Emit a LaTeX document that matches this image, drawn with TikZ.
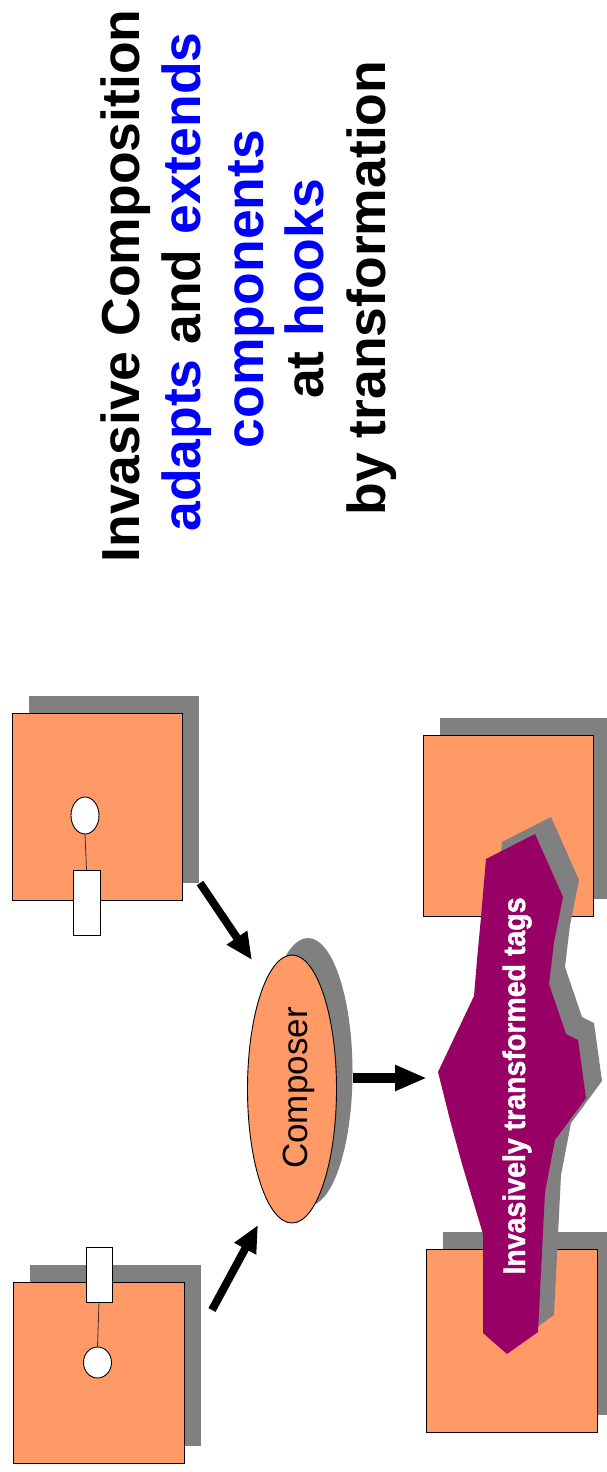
\documentclass[tikz,border=0pt]{standalone}
\usepackage{fontspec}
\usepackage{graphicx}
\setmainfont{Liberation Sans}
\newfontfamily\tagfont[BoldFeatures={FakeBold=1.5}]{Liberation Sans}
\usetikzlibrary{arrows.meta,shapes.geometric,shadows}

\definecolor{compfill}{RGB}{255,153,102}
\definecolor{shadowgray}{RGB}{128,128,128}
\definecolor{tagpurple}{RGB}{153,0,102}
\definecolor{keyblue}{RGB}{0,0,255}

\begin{document}
\begin{tikzpicture}[x=1pt,y=-1pt,
  boxshadow/.style={drop shadow={shadow xshift=17pt,shadow yshift=17pt,fill=shadowgray,opacity=1}},
  compbox/.style={rectangle,draw=black,line width=0.9pt,fill=compfill,inner sep=0pt,outer sep=0pt,boxshadow},
  hookball/.style={ellipse,draw=black,line width=0.9pt,fill=white,inner sep=0pt,outer sep=0pt},
  hookplug/.style={rectangle,draw=black,line width=0.9pt,fill=white,inner sep=0pt,outer sep=0pt},
  hookwire/.style={draw=black!80,line width=0.8pt},
  flow/.style={line width=8pt,-{Triangle[length=27pt,width=23pt]}},
  bigflow/.style={line width=10pt,-{Triangle[length=32pt,width=24pt]}},
  titleline/.style={rotate=90,anchor=base,font=\fontsize{53.5}{60}\selectfont\bfseries},
]
\useasboundingbox (0,0) rectangle (606,1472);

% ---- title, set bottom to top ----
\node[titleline] (t1) at (139,286) {Invasive Composition};
\node[titleline] (t2) at (200,282) {\textcolor{keyblue}{adapts} and \textcolor{keyblue}{extends}};
\node[titleline,text=keyblue] (t3) at (263,289) {components};
\node[titleline] (t4) at (323,289) {at \textcolor{keyblue}{hooks}};
\node[titleline] (t5) at (385,288) {by transformation};

% ---- input components with hooks ----
\node[compbox,minimum width=170pt,minimum height=187pt] (comp1) at (97,806.5) {};
\node[hookball,minimum width=28pt,minimum height=37pt] (ball1) at (85,815.5) {};
\node[hookplug,minimum width=27pt,minimum height=65pt] (plug1) at (86.5,902.5) {};
\draw[hookwire] (ball1.south) -- (plug1.north);

\node[compbox,minimum width=171pt,minimum height=181pt] (comp2) at (98.5,1372.5) {};
\node[hookball,minimum width=28pt,minimum height=31pt] (ball2) at (97.5,1362.5) {};
\node[hookplug,minimum width=26pt,minimum height=55pt] (plug2) at (99,1274.5) {};
\draw[hookwire] (plug2.south) -- (ball2.north);

% ---- composer ----
\node[ellipse,draw=black,line width=0.9pt,fill=compfill,inner sep=0pt,
      minimum width=89pt,minimum height=268pt,
      drop shadow={shadow xshift=16pt,shadow yshift=17pt,fill=shadowgray,opacity=1}]
      (composer) at (292,1089) {};
\node[rotate=90,anchor=base,font=\fontsize{35}{40}\selectfont] (composerlabel)
      at (307,1088) {Composer};

% ---- arrows into and out of the composer ----
\coordinate (from1) at (200,883);
\coordinate (to1) at (252,960);
\coordinate (from2) at (212,1310);
\coordinate (to2) at (258,1225);
\coordinate (fromc) at (353,1078);
\coordinate (tagtip) at (427,1078);
\draw[flow] (from1) -- (to1);
\draw[flow] (from2) -- (to2);
\draw[bigflow] (fromc) -- (tagtip);

% ---- composed result ----
\node[compbox,minimum width=170pt,minimum height=181pt] (comp3) at (508,825.5) {};
\node[compbox,minimum width=171pt,minimum height=183pt] (comp4) at (511.5,1340.5) {};

% transformed tags: shadow first, then the purple shape
\def\tagoutline{(486,859) -- (535,834) -- (563,897) -- (554,942) -- (549,984)
  -- (566,1034) -- (578,1040) -- (586,1098) -- (555,1140) -- (545,1192)
  -- (538,1332) -- (507,1354) -- (483,1333) -- (483,1234) -- (462,1164)
  -- (450,1120) -- (438,1072) -- (474,996) -- (477,960) -- (481,917) -- cycle}
\begin{scope}[shift={(16,-17)}]
  \fill[shadowgray] \tagoutline;
\end{scope}
\fill[tagpurple] \tagoutline;
\node[rotate=90,anchor=base,text=white,font=\tagfont\fontsize{31}{34}\selectfont\bfseries]
      (tagtext) at (525,1086) {\scalebox{0.92}[1]{Invasively transformed tags}};
\end{tikzpicture}
\end{document}
